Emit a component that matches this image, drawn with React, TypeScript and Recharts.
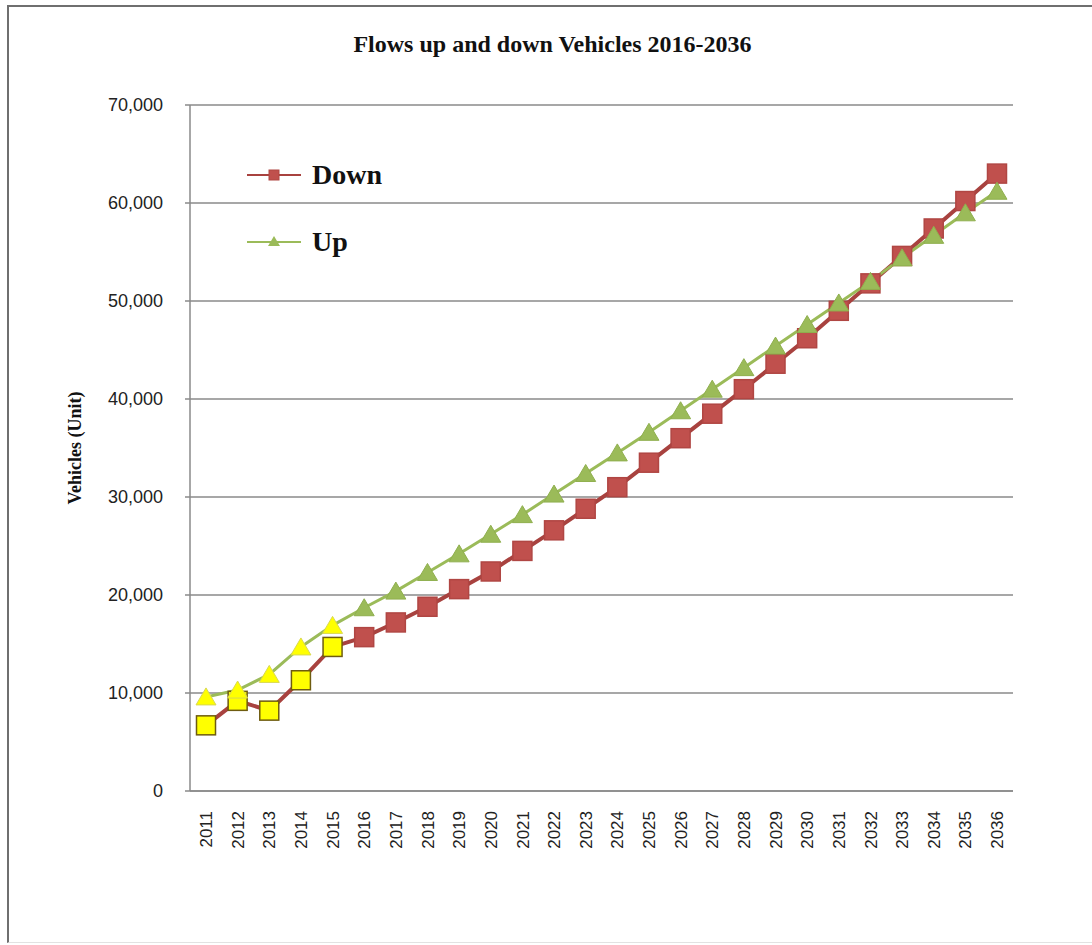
import { LineChart, Line, XAxis, YAxis, CartesianGrid, Legend } from 'recharts';

const years = [
  '2011', '2012', '2013', '2014', '2015', '2016', '2017', '2018', '2019', '2020', '2021', '2022', '2023',
  '2024', '2025', '2026', '2027', '2028', '2029', '2030', '2031', '2032', '2033', '2034', '2035', '2036',
];

const downValues = [
  6700, 9200, 8200, 11300, 14700, 15700, 17200, 18800, 20600, 22400, 24500, 26600, 28800,
  31000, 33500, 36000, 38500, 41000, 43600, 46200, 49000, 51800, 54600, 57400, 60200, 63000,
];

const upValues = [
  9600, 10300, 11900, 14700, 16900, 18700, 20400, 22300, 24200, 26200, 28200, 30300, 32400,
  34500, 36600, 38800, 41000, 43200, 45400, 47600, 49800, 52000, 54400, 56700, 59000, 61200,
];

// years drawn with yellow markers (observed counts)
const observedYears = ['2011', '2012', '2013', '2014', '2015'];

const yTicks = [0, 10000, 20000, 30000, 40000, 50000, 60000, 70000];

const data = years.map((year, i) => ({ year, down: downValues[i], up: upValues[i] }));

const DOWN_LINE = '#A8423F';
const DOWN_FILL = '#C0504D';
const UP_LINE = '#9BBB59';
const UP_FILL = '#9BBB59';
const YELLOW = '#FFFF00';

const SquareDot = (props: any) => {
  const { cx, cy, payload, index } = props;
  if (cx == null || cy == null) return null;
  const early = observedYears.includes(payload.year);
  const s = 19;
  return (
    <rect
      key={`sq-${index}`}
      x={cx - s / 2}
      y={cy - s / 2}
      width={s}
      height={s}
      fill={early ? YELLOW : DOWN_FILL}
      stroke={early ? '#6E5C10' : '#B04643'}
      strokeWidth={1.5}
    />
  );
};

const TriangleDot = (props: any) => {
  const { cx, cy, payload, index } = props;
  if (cx == null || cy == null) return null;
  const early = observedYears.includes(payload.year);
  const pts = `${cx},${cy - 9} ${cx + 10},${cy + 8} ${cx - 10},${cy + 8}`;
  return (
    <polygon
      key={`tri-${index}`}
      points={pts}
      fill={early ? YELLOW : UP_FILL}
      stroke={early ? '#D8D850' : '#8FAF4E'}
      strokeWidth={1}
    />
  );
};

const YearTick = (props: any) => {
  const { x, y, payload } = props;
  return (
    <g transform={`translate(${x},${y})`}>
      <text
        transform="rotate(-90)"
        textAnchor="end"
        dy="0.36em"
        fill="#222"
        fontSize={17}
        fontFamily="'Liberation Sans', Arial, sans-serif"
      >
        {payload.value}
      </text>
    </g>
  );
};

const ChartLegend = () => (
  <div style={{ fontFamily: "'Liberation Serif', 'Times New Roman', serif", fontWeight: 'bold', fontSize: 28, color: '#111' }}>
    <div style={{ display: 'flex', alignItems: 'center', height: 34 }}>
      <svg width={56} height={20} style={{ marginRight: 9 }}>
        <line x1={0} y1={10} x2={54} y2={10} stroke={DOWN_LINE} strokeWidth={2} />
        <rect x={22} y={5} width={10} height={10} fill={DOWN_FILL} stroke="#B04643" />
      </svg>
      <span>Down</span>
    </div>
    <div style={{ display: 'flex', alignItems: 'center', height: 34, marginTop: 33 }}>
      <svg width={56} height={20} style={{ marginRight: 9 }}>
        <line x1={0} y1={10} x2={54} y2={10} stroke={UP_LINE} strokeWidth={2} />
        <polygon points="27,4 33,14 21,14" fill={UP_FILL} />
      </svg>
      <span>Up</span>
    </div>
  </div>
);

export default function App() {
  return (
    <div style={{ position: 'absolute', left: 0, top: 0, width: 1092, height: 945, background: '#fff', overflow: 'hidden' }}>
      <div
        style={{
          position: 'absolute',
          left: 7,
          top: 5,
          width: 1100,
          height: 935,
          borderTop: '2.5px solid #6f6f6f',
          borderLeft: '2.5px solid #6f6f6f',
          borderBottom: '1px solid #e2e2e2',
        }}
      />
      <div
        style={{
          position: 'absolute',
          left: 0,
          width: 1105,
          top: 31,
          textAlign: 'center',
          fontFamily: "'Liberation Serif', 'Times New Roman', serif",
          fontWeight: 'bold',
          fontSize: 24,
          color: '#111',
        }}
      >
        Flows up and down Vehicles 2016-2036
      </div>
      <div style={{ position: 'absolute', left: 0, top: 0 }}>
        <LineChart width={1092} height={945} data={data} margin={{ top: 105, right: 79, bottom: 90, left: 100 }}>
          <CartesianGrid vertical={false} stroke="#8a8a8a" strokeWidth={1.5} />
          <XAxis
            dataKey="year"
            interval={0}
            height={64}
            tickLine={false}
            tickMargin={14}
            padding={{ left: 16, right: 16 }}
            stroke="#8a8a8a"
            strokeWidth={1.5}
            tick={<YearTick />}
          />
          <YAxis
            width={90}
            domain={[0, 70000]}
            ticks={yTicks}
            interval={0}
            tickSize={5}
            tickMargin={22}
            stroke="#8a8a8a"
            strokeWidth={1.5}
            tickFormatter={(v: number) => v.toLocaleString('en-US')}
            tick={{ fill: '#222', fontSize: 18, fontFamily: "'Liberation Sans', Arial, sans-serif" }}
            label={{
              value: 'Vehicles (Unit)',
              angle: -90,
              position: 'insideLeft',
              dx: -30,
              style: {
                textAnchor: 'middle',
                fontFamily: "'Liberation Serif', 'Times New Roman', serif",
                fontWeight: 'bold',
                fontSize: 18,
                fill: '#111',
              },
            }}
          />
          <Legend
            layout="vertical"
            verticalAlign="middle"
            align="center"
            content={<ChartLegend />}
            wrapperStyle={{ position: 'absolute', left: 247, top: 158, width: 200 }}
          />
          <Line
            dataKey="down"
            name="Down"
            stroke={DOWN_LINE}
            strokeWidth={4}
            dot={<SquareDot />}
            activeDot={false}
            isAnimationActive={false}
          />
          <Line
            dataKey="up"
            name="Up"
            stroke={UP_LINE}
            strokeWidth={3}
            dot={<TriangleDot />}
            activeDot={false}
            isAnimationActive={false}
          />
        </LineChart>
      </div>
    </div>
  );
}
